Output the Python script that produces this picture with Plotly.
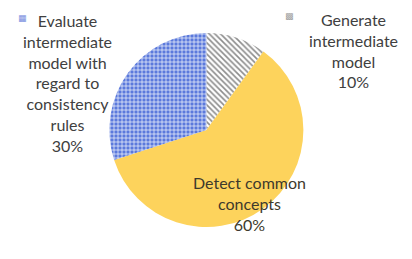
import plotly.graph_objects as go

# Data
labels = ["Generate<br>intermediate<br>model",
          "Detect common<br>concepts",
          "Evaluate<br>intermediate<br>model with<br>regard to<br>consistency<br>rules"]
values = [10, 60, 30]
colors = ["#a6a6a6", "#fdd35c", "#5b79dc"]

total = sum(values)
pcts = [f"{round(v / total * 100)}%" for v in values]

fig = go.Figure()
fig.add_trace(go.Pie(
    labels=labels,
    values=values,
    sort=False,
    direction="clockwise",
    rotation=0,
    textinfo="none",
    hoverinfo="skip",
    showlegend=False,
    domain=dict(x=[0.246, 0.717], y=[0.1544, 0.9035]),
    marker=dict(
        colors=["white", colors[1], colors[2]],
        line=dict(width=0),
        pattern=dict(
            shape=["\\", "", "+"],
            fgcolor=["#8c8c8c", colors[1], "white"],
            bgcolor=["white", colors[1], colors[2]],
            size=[4, 4, 4],
            solidity=[0.4, 0.0, 0.3],
            fillmode="replace",
        ),
    ),
))

font_family = "Lato, Open Sans, sans-serif"
text_colors = ["#404040", "#3d3a2c", "#404040"]
label_xy = [(0.838, 0.835), (0.587, 0.247), (0.145, 0.712)]

for lab, pct, (ax, ay), tc in zip(labels, pcts, label_xy, text_colors):
    fig.add_annotation(
        x=ax, y=ay, xref="paper", yref="paper",
        text=f"{lab}<br>{pct}",
        showarrow=False, align="center",
        xanchor="center", yanchor="middle",
        font=dict(family=font_family, size=16, color=tc),
    )

# Legend swatches (small patterned squares)
fig.add_annotation(x=14 / 412, y=1 - 10 / 259, xref="paper", yref="paper",
                   text="▦", showarrow=False, xanchor="center", yanchor="middle",
                   font=dict(family="DejaVu Sans", size=9, color="#7b8fe0"))
fig.add_annotation(x=281 / 412, y=1 - 8 / 259, xref="paper", yref="paper",
                   text="▩", showarrow=False, xanchor="center", yanchor="middle",
                   font=dict(family="DejaVu Sans", size=9, color="#a0a0a0"))

fig.update_layout(
    width=412, height=259,
    margin=dict(l=0, r=0, t=0, b=0),
    paper_bgcolor="white",
    plot_bgcolor="white",
)

fig.write_html("out.html")
